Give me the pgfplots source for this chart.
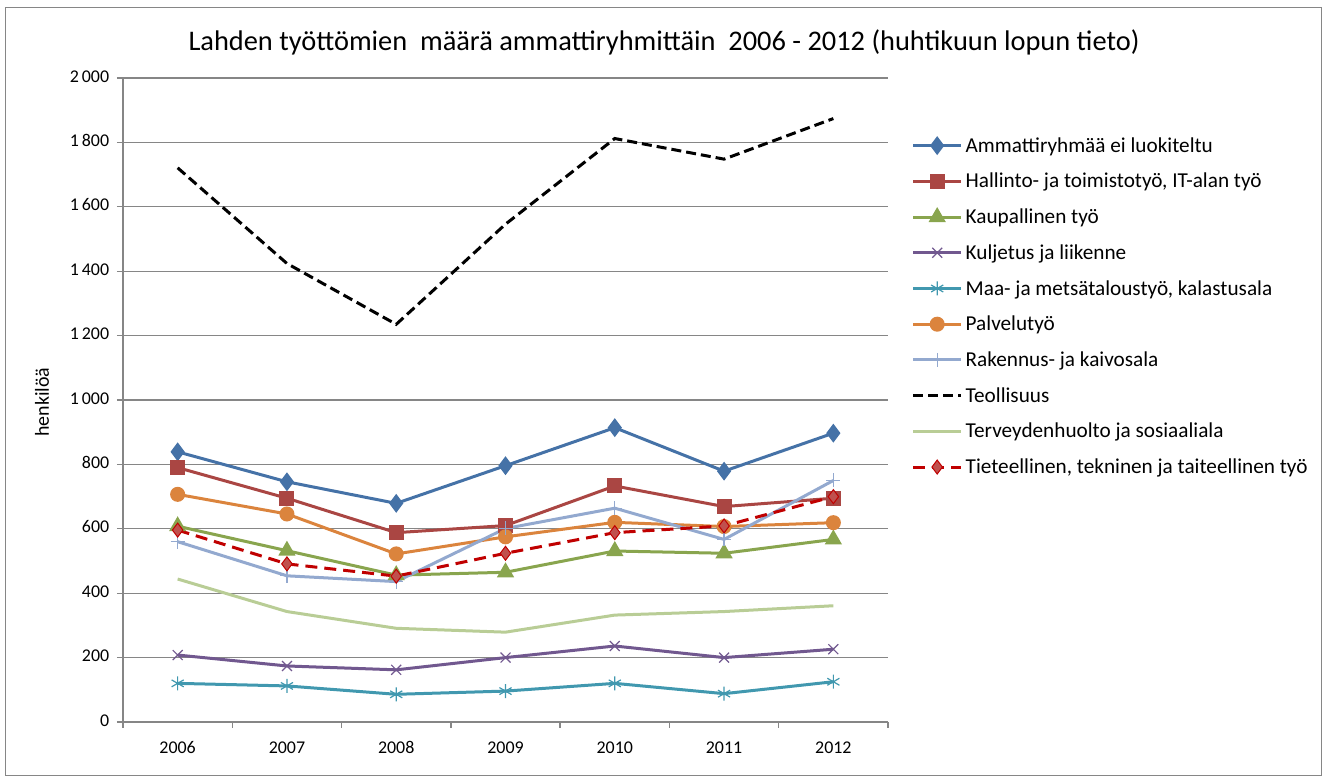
\documentclass[border=0pt]{standalone}
\usepackage{fontspec}
\setmainfont{Carlito}
\usepackage{pgfplots}
\usepackage{pgfplotstable}
\pgfplotsset{compat=1.18}

\definecolor{cAmm}{RGB}{69,114,167}
\definecolor{cHall}{RGB}{170,70,67}
\definecolor{cKaup}{RGB}{137,165,78}
\definecolor{cKulj}{RGB}{113,88,143}
\definecolor{cMaa}{RGB}{65,152,175}
\definecolor{cPalv}{RGB}{219,132,61}
\definecolor{cRak}{RGB}{147,169,207}
\definecolor{cTerv}{RGB}{185,205,150}
\definecolor{cTiet}{RGB}{192,0,0}
\definecolor{cTietFill}{RGB}{192,80,77}
\definecolor{axgray}{RGB}{134,134,134}

% vuosi indeksinä 0..6 = 2006..2012
\pgfplotstableread{
x amm hall kaup kulj maa palv rak teol terv tiet
0 839 790 608 208 120 707 560 1721 444 596
1 746 695 532 174 112 646 454 1424 343 491
2 679 588 456 162  86 522 436 1235 291 453
3 796 610 465 200  96 575 601 1546 279 524
4 914 733 531 236 120 620 664 1812 332 588
5 779 669 524 200  88 607 567 1748 343 609
6 897 695 567 226 125 619 750 1874 361 700
}\data

\begin{document}
\begin{tikzpicture}
\useasboundingbox (0,0) rectangle (1322bp,776bp);
\draw[axgray, line width=1bp] (5bp,0.5bp) rectangle (1321.5bp,768bp);
\node[font=\fontsize{28.5}{34}\selectfont] at (664bp,734bp)
  {Lahden työttömien\ \ määrä ammattiryhmittäin\ \ 2006 - 2012 (huhtikuun lopun tieto)};
\node[rotate=90, font=\fontsize{20}{24}\selectfont] at (42bp,374bp) {henkilöä};
\begin{axis}[
    at={(123bp,54bp)}, anchor=south west,
    scale only axis,
    width=765bp, height=644bp,
    xmin=-0.5, xmax=6.5,
    ymin=0, ymax=2000,
    axis lines*=left,
    axis line style={axgray, line width=1.3bp},
    xtick={-0.5,0.5,1.5,2.5,3.5,4.5,5.5,6.5},
    x tick label as interval,
    xticklabels={2006,2007,2008,2009,2010,2011,2012},
    typeset ticklabels with strut,
    ytick distance=200,
    tick align=outside,
    major tick length=6bp,
    tick style={axgray, line width=1.3bp},
    ymajorgrids,
    grid style={axgray, line width=1.3bp},
    tick label style={font=\fontsize{18}{21}\selectfont},
    xticklabel style={yshift=-6bp},
    yticklabel style={xshift=-3bp},
    /pgf/number format/1000 sep={\,},
    /pgf/number format/assume math mode=true,
    line width=3bp,
    legend image code/.code={\draw[mark repeat=2,mark phase=2,#1]
        plot coordinates {(0bp,0bp)(24bp,0bp)(48bp,0bp)};},
    legend style={at={(1.029,0.913)}, anchor=north west, draw=none,
        fill=none, inner sep=0pt, row sep=15.5bp,
        font=\fontsize{21.3}{25}\selectfont,
        nodes={inner xsep=3bp}},
    legend cell align=left,
    ]
    \addplot[cAmm, mark=diamond*, mark size=7bp, mark options={solid}] table[x=x,y=amm] {\data};
    \addlegendentry{Ammattiryhmää ei luokiteltu}
    \addplot[cHall, mark=square*, mark size=6bp] table[x=x,y=hall] {\data};
    \addlegendentry{Hallinto- ja toimistotyö, IT-alan työ}
    \addplot[cKaup, mark=triangle*, mark size=7bp] table[x=x,y=kaup] {\data};
    \addlegendentry{Kaupallinen työ}
    \addplot[cKulj, mark=x, mark size=7bp, mark options={line width=1.2bp}] table[x=x,y=kulj] {\data};
    \addlegendentry{Kuljetus ja liikenne}
    \addplot[cMaa, mark=asterisk, mark size=7bp, mark options={line width=1.2bp}] table[x=x,y=maa] {\data};
    \addlegendentry{Maa- ja metsätaloustyö, kalastusala}
    \addplot[cPalv, mark=*, mark size=6bp] table[x=x,y=palv] {\data};
    \addlegendentry{Palvelutyö}
    \addplot[cRak, mark=+, mark size=7bp, mark options={line width=1.2bp}] table[x=x,y=rak] {\data};
    \addlegendentry{Rakennus- ja kaivosala}
    \addplot[black, dash pattern=on 10bp off 5bp] table[x=x,y=teol] {\data};
    \addlegendentry{Teollisuus}
    \addplot[cTerv] table[x=x,y=terv] {\data};
    \addlegendentry{Terveydenhuolto ja sosiaaliala}
    \addplot[cTiet, dash pattern=on 12bp off 7bp, mark=diamond*, mark size=7bp,
        mark options={solid, fill=cTietFill, draw=cTiet, line width=1bp}] table[x=x,y=tiet] {\data};
    \addlegendentry{Tieteellinen, tekninen ja taiteellinen työ}
\end{axis}
\end{tikzpicture}
\end{document}
